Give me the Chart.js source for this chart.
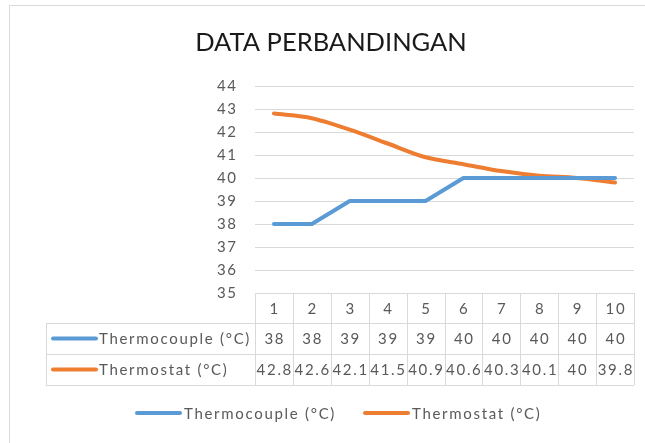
<!DOCTYPE html>
<html>
<head>
<meta charset="utf-8">
<script src="https://cdn.jsdelivr.net/npm/chart.js@4"></script>
<style>
html,body{margin:0;padding:0;background:#fff;}
#wrap{width:645px;height:443px;position:relative;}
</style>
</head>
<body>
<div id="wrap"><canvas id="c" width="645" height="443"></canvas></div>
<script>
const title = "DATA PERBANDINGAN";
const categories = ["1","2","3","4","5","6","7","8","9","10"];
const seriesNames = ["Thermocouple (°C)", "Thermostat (°C)"];
const thermocouple = [38, 38, 39, 39, 39, 40, 40, 40, 40, 40];
const thermostat = [42.8, 42.6, 42.1, 41.5, 40.9, 40.6, 40.3, 40.1, 40, 39.8];
const yTicks = [35, 36, 37, 38, 39, 40, 41, 42, 43, 44];
const colors = ["#5B9BD5", "#ED7D31"];

const FONT = "Lato, 'Open Sans', sans-serif";
const TXT = "#595959";
const GRID = "#d9d9d9";
const SP = 1.7;

const spacingPlugin = {
  id: "spacingPlugin",
  beforeDraw(chart) { chart.ctx.letterSpacing = "1.5px"; }
};

const tablePlugin = {
  id: "tablePlugin",
  afterDraw(chart) {
    const ctx = chart.ctx;
    const xs = chart.scales.x;
    const ca = chart.chartArea;
    const n = categories.length;
    const colW = (ca.right - ca.left) / n;
    const top = ca.bottom;
    const rowH = [30, 31, 31];
    const y1 = top + rowH[0], y2 = y1 + rowH[1], y3 = y2 + rowH[2];
    const tableLeft = 46;
    ctx.save();
    ctx.letterSpacing = "0px";
    // outer chart border
    ctx.strokeStyle = GRID; ctx.lineWidth = 1;
    ctx.beginPath();
    ctx.moveTo(9.5, 443); ctx.lineTo(9.5, 5.5); ctx.lineTo(645, 5.5);
    ctx.stroke();
    // table grid
    ctx.beginPath();
    ctx.moveTo(ca.left, top + 0.5); ctx.lineTo(ca.right, top + 0.5);
    [y1, y2, y3].forEach(y => { ctx.moveTo(tableLeft, y + 0.5); ctx.lineTo(ca.right, y + 0.5); });
    ctx.moveTo(tableLeft + 0.5, y1); ctx.lineTo(tableLeft + 0.5, y3);
    for (let i = 0; i <= n; i++) {
      const x = Math.round(ca.left + i * colW) + 0.5;
      ctx.moveTo(x, top); ctx.lineTo(x, y3);
    }
    ctx.stroke();
    // text
    ctx.letterSpacing = SP + "px";
    ctx.fillStyle = TXT;
    ctx.font = "15px " + FONT;
    ctx.textBaseline = "middle";
    ctx.textAlign = "center";
    const rows = [thermocouple, thermostat];
    categories.forEach((c, i) => {
      const cx = xs.getPixelForValue(i) + SP / 2;
      ctx.fillText(c, cx, (top + y1) / 2 + 1);
      ctx.fillText(String(rows[0][i]), cx, (y1 + y2) / 2 + 1);
      ctx.fillText(String(rows[1][i]), cx, (y2 + y3) / 2 + 1);
    });
    // row labels with keys
    ctx.textAlign = "left";
    [[y1, y2], [y2, y3]].forEach((r, k) => {
      const cy = (r[0] + r[1]) / 2;
      ctx.strokeStyle = colors[k]; ctx.lineWidth = 4; ctx.lineCap = "round";
      ctx.beginPath(); ctx.moveTo(53, cy); ctx.lineTo(96, cy); ctx.stroke();
      ctx.fillText(seriesNames[k], 99, cy + 1);
    });
    // legend
    const ly = 413;
    const lx = [137, 365];
    seriesNames.forEach((s, k) => {
      ctx.strokeStyle = colors[k]; ctx.lineWidth = 4; ctx.lineCap = "round";
      ctx.beginPath(); ctx.moveTo(lx[k], ly); ctx.lineTo(lx[k] + 43, ly); ctx.stroke();
      ctx.fillText(s, lx[k] + 47, ly + 1);
    });
    // title
    ctx.letterSpacing = "0px";
    ctx.fillStyle = "#1a1a1a";
    ctx.font = "25.5px " + FONT;
    ctx.textAlign = "center";
    ctx.textBaseline = "alphabetic";
    ctx.fillText(title, 331, 51);
    ctx.restore();
  }
};

new Chart(document.getElementById("c"), {
  type: "line",
  data: {
    labels: categories,
    datasets: [
      { label: seriesNames[0], data: thermocouple, borderColor: colors[0], backgroundColor: colors[0],
        borderWidth: 4, pointRadius: 0, tension: 0, borderCapStyle: "round", borderJoinStyle: "round" },
      { label: seriesNames[1], data: thermostat, borderColor: colors[1], backgroundColor: colors[1],
        borderWidth: 4, pointRadius: 0, tension: 0.3, borderCapStyle: "round", borderJoinStyle: "round" }
    ]
  },
  options: {
    responsive: false,
    animation: false,
    layout: { padding: { left: 0, right: 11, top: 86, bottom: 150 } },
    plugins: { legend: { display: false }, tooltip: { enabled: false }, title: { display: false } },
    scales: {
      x: { type: "category", offset: true, display: false },
      y: {
        min: yTicks[0], max: yTicks[yTicks.length - 1],
        afterFit(s) { s.width = 255; },
        afterBuildTicks(s) { s.ticks = yTicks.map(v => ({ value: v })); },
        border: { display: false },
        grid: { color: GRID, lineWidth: 1, drawTicks: false, tickLength: 0 },
        ticks: { color: TXT, font: { family: FONT, size: 15 }, padding: 17.5 }
      }
    }
  },
  plugins: [spacingPlugin, tablePlugin]
});
</script>
</body>
</html>
